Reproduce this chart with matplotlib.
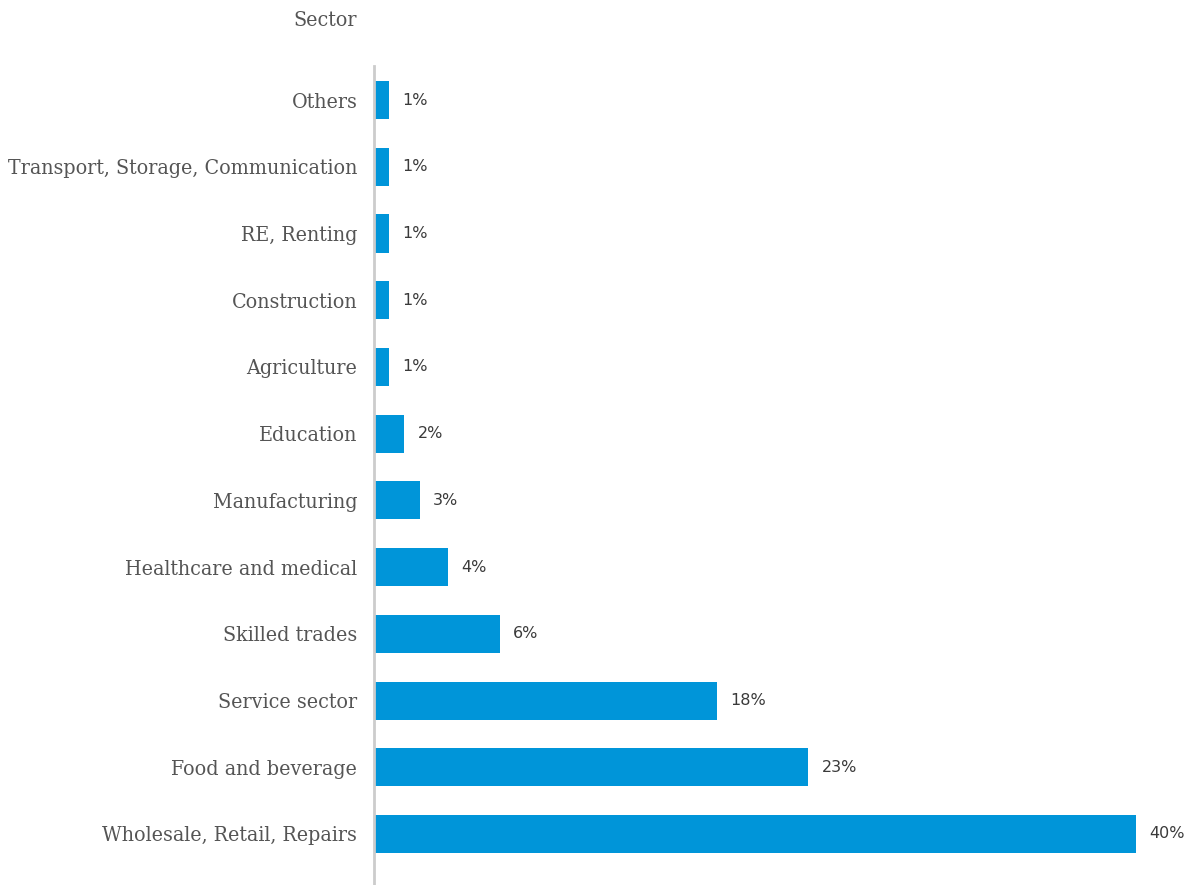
import matplotlib
matplotlib.use("Agg")
import matplotlib.pyplot as plt

sectors = ["Wholesale, Retail, Repairs", "Food and beverage", "Service sector",
           "Skilled trades", "Healthcare and medical", "Manufacturing", "Education",
           "Agriculture", "Construction", "RE, Renting",
           "Transport, Storage, Communication", "Others"]
shares = [40.0, 22.8, 18.0, 6.6, 3.9, 2.4, 1.6, 0.8, 0.8, 0.8, 0.8, 0.8]
share_labels = ["40%", "23%", "18%", "6%", "4%", "3%", "2%", "1%", "1%", "1%", "1%", "1%"]

label_font = dict(family="DejaVu Serif", stretch="condensed", size=15.3)

fig = plt.figure(figsize=(11.87, 8.85), dpi=100)
ax = fig.add_axes([0.3151, 0.0, 0.6849, 0.9254])

ypos = range(len(sectors))
ax.barh(ypos, shares, height=0.57, color="#0095d9")
for y, v, lab in zip(ypos, shares, share_labels):
    ax.text(v + 0.7, y, lab, va="center", ha="left", fontsize=11.5,
            color="#3a3a3a", family="DejaVu Sans")

ax.set_xlim(0, 42.7)
ax.set_ylim(-0.765, 11.51)
ax.set_yticks(list(ypos))
ax.set_yticklabels(sectors, fontdict=label_font, color="#555555")
ax.tick_params(axis="y", length=0, pad=12)
ax.set_xticks([])
for s in ["top", "right", "bottom"]:
    ax.spines[s].set_visible(False)
ax.spines["left"].set_color("#cccccc")
ax.spines["left"].set_linewidth(2)

fig.text(357 / 1187, 1 - 21 / 885, "Sector", ha="right", va="center",
         color="#555555", **label_font)

fig.savefig("out.png", dpi=100)
